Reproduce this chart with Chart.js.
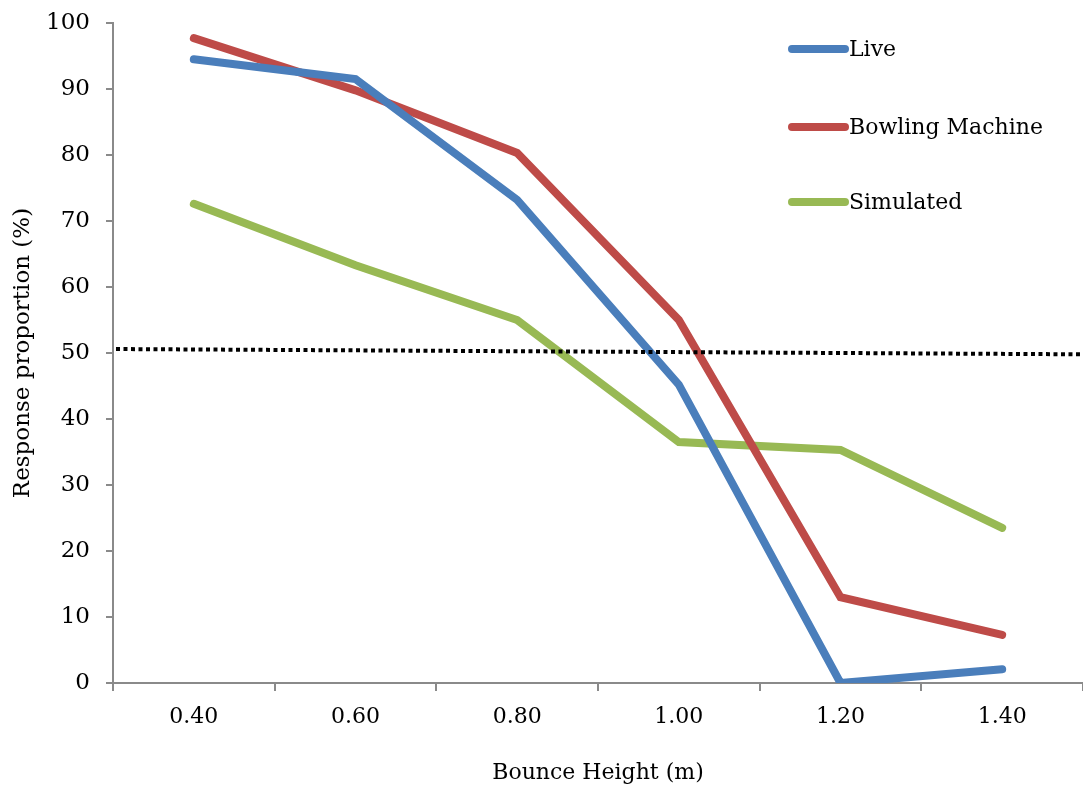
<!DOCTYPE html>
<html>
<head>
<meta charset="utf-8">
<script src="https://cdn.jsdelivr.net/npm/chart.js@4/dist/chart.umd.min.js"></script>
<style>
  html, body { margin: 0; padding: 0; background: #fff; }
  #wrap { width: 1083px; height: 790px; position: relative; }
</style>
</head>
<body>
<div id="wrap"><canvas id="grafico"></canvas></div>
<script>
const alturas = ['0.40', '0.60', '0.80', '1.00', '1.20', '1.40'];
const live = [94.5, 91.5, 73.2, 45.2, 0, 2.1];
const maquina = [97.7, 89.8, 80.3, 55.0, 13.0, 7.3];
const simulado = [72.6, 63.3, 55.0, 36.5, 35.3, 23.5];
// linha de referência pontilhada (valor na esquerda e na direita)
const limiar = [50.6, 49.8];

const fonte = "'DejaVu Serif', 'Liberation Serif', serif";
const corEixo = '#8a8a8a';

const series = [
  { label: 'Live', data: live, cor: '#4a7ebb' },
  { label: 'Bowling Machine', data: maquina, cor: '#be4b48' },
  { label: 'Simulated', data: simulado, cor: '#98b954' }
];

const linhaLimiar = {
  id: 'linhaLimiar',
  afterDatasetsDraw(chart) {
    const { ctx, chartArea, scales } = chart;
    ctx.save();
    ctx.strokeStyle = '#000';
    ctx.lineWidth = 4;
    ctx.setLineDash([4, 3.5]);
    ctx.beginPath();
    ctx.moveTo(chartArea.left + 3, scales.y.getPixelForValue(limiar[0]));
    ctx.lineTo(chartArea.right, scales.y.getPixelForValue(limiar[1]));
    ctx.stroke();
    ctx.restore();
  }
};

const legenda = {
  id: 'legenda',
  afterDraw(chart) {
    const { ctx } = chart;
    const ys = [49, 127, 202];
    ctx.save();
    ctx.font = '22px ' + fonte;
    ctx.textBaseline = 'middle';
    ctx.lineCap = 'round';
    series.forEach((s, i) => {
      ctx.strokeStyle = s.cor;
      ctx.lineWidth = 8;
      ctx.beginPath();
      ctx.moveTo(792, ys[i]);
      ctx.lineTo(845, ys[i]);
      ctx.stroke();
      ctx.fillStyle = '#000';
      ctx.fillText(s.label, 849, ys[i] + 1);
    });
    ctx.restore();
  }
};

new Chart(document.getElementById('grafico'), {
  type: 'line',
  data: {
    labels: alturas,
    datasets: series.map(s => ({
      label: s.label,
      data: s.data,
      borderColor: s.cor,
      backgroundColor: s.cor,
      borderWidth: 8,
      borderCapStyle: 'round',
      borderJoinStyle: 'miter',
      pointRadius: 0,
      tension: 0
    }))
  },
  options: {
    responsive: true,
    maintainAspectRatio: false,
    animation: false,
    layout: { padding: { top: 23, right: 0, left: 5, bottom: 0 } },
    plugins: {
      legend: { display: false },
      tooltip: { enabled: false }
    },
    scales: {
      x: {
        offset: true,
        grid: { offset: true, drawOnChartArea: false, drawTicks: true, tickLength: 8, color: corEixo, lineWidth: 2 },
        border: { color: corEixo, width: 2 },
        ticks: { color: '#000', font: { family: fonte, size: 22 }, padding: 13, maxRotation: 0 },
        title: { display: true, text: 'Bounce Height (m)', color: '#000', font: { family: fonte, size: 22 }, padding: { top: 17 } },
        afterFit(scale) { scale.height = 107; scale.paddingLeft = 0; scale.paddingRight = 0; }
      },
      y: {
        min: 0,
        max: 100,
        ticks: { stepSize: 10, color: '#000', font: { family: fonte, size: 23 }, padding: 16 },
        grid: { drawOnChartArea: false, drawTicks: true, tickLength: 7, color: corEixo, lineWidth: 2 },
        border: { color: corEixo, width: 2 },
        title: { display: true, text: 'Response proportion (%)', color: '#000', font: { family: fonte, size: 23 }, padding: { bottom: 10 } },
        afterFit(scale) { scale.width = 108; scale.paddingTop = 0; scale.paddingBottom = 0; }
      }
    }
  },
  plugins: [linhaLimiar, legenda]
});
</script>
</body>
</html>
